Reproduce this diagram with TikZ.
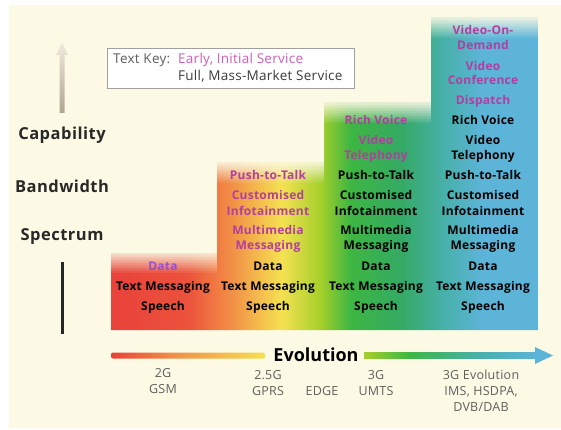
\documentclass[tikz,border=0pt]{standalone}
\usepackage{fontspec}
\setmainfont{Open Sans}
\definecolor{cream}{RGB}{252,249,228}
\definecolor{mag}{RGB}{178,62,160}
\definecolor{vio}{RGB}{150,80,200}
\definecolor{keymag}{RGB}{205,95,185}
\definecolor{gtext}{RGB}{95,95,95}
\definecolor{c0}{RGB}{232,66,58}
\definecolor{c1}{RGB}{236,82,60}
\definecolor{c2}{RGB}{242,142,70}
\definecolor{c3}{RGB}{245,225,82}
\definecolor{c4}{RGB}{165,208,42}
\definecolor{c5}{RGB}{62,182,66}
\definecolor{c6}{RGB}{52,170,100}
\definecolor{c7}{RGB}{72,176,170}
\definecolor{c8}{RGB}{92,180,216}
\pgfdeclarehorizontalshading{spectrum}{100bp}{color(0bp)=(c0); color(25bp)=(c0); color(34bp)=(c1); color(39bp)=(c2); color(45bp)=(c3); color(49.5bp)=(c4); color(53bp)=(c5); color(59bp)=(c6); color(64bp)=(c7); color(68.5bp)=(c8); color(75bp)=(c8); color(100bp)=(c8)}
\pgfdeclarehorizontalshading{evoleft}{100bp}{color(0bp)=(c0); color(25bp)=(c0); color(45bp)=(c2); color(75bp)=(c3); color(100bp)=(c3)}
\pgfdeclarehorizontalshading{evoright}{100bp}{color(0bp)=(c4); color(25bp)=(c4); color(38bp)=(c5); color(58bp)=(c7); color(75bp)=(c8); color(100bp)=(c8)}
\tikzset{
  item/.style={font=\fontsize{12}{13}\selectfont\bfseries\addfontfeatures{LetterSpace=2}, text=black, inner sep=0pt, text height=8.5pt, text depth=2.5pt},
  early/.style={item, text=mag},
  axislabel/.style={font=\fontsize{16.5}{18}\selectfont\bfseries\addfontfeatures{LetterSpace=3}, text={rgb,255:red,40;green,40;blue,40}, inner sep=0pt},
  gen/.style={font=\fontsize{12.5}{13}\selectfont\addfontfeatures{LetterSpace=2}, text=gtext, inner sep=0pt, text height=8.5pt, text depth=2.5pt},
  keytext/.style={font=\fontsize{13.5}{14}\selectfont\addfontfeatures{LetterSpace=2}, inner sep=0pt, anchor=west},
}
\begin{document}
\begin{tikzpicture}[x=1pt,y=-1pt]
\useasboundingbox (0,0) rectangle (561,430);
\fill[white] (0,0) rectangle (561,430);
\fill[cream] (9,5) rectangle (561,428);
% bars
\shade[shading=spectrum] (111,330) -- (111,253) -- (217,253) -- (217,163) -- (324,163) -- (324,103) -- (431,103) -- (431,18) -- (538,18) -- (538,330) -- cycle;
\foreach \xa/\xb/\yt in {111/217/253, 217/324/163, 324/431/103, 431/538/18}{
  \foreach \k [evaluate=\k as \op using 0.85-0.085*\k] in {0,...,9}{
    \fill[cream, opacity=\op] (\xa,\yt+2*\k) rectangle (\xb,\yt+2*\k+2);
  }
}
% up arrow and line
\shade[bottom color={rgb,255:red,175;green,165;blue,145}, top color={rgb,255:red,238;green,234;blue,220}]
  (59.5,113) -- (59.5,55) -- (56,55) -- (62,43) -- (68,55) -- (64.5,55) -- (64.5,113) -- cycle;
\coordinate (lt) at (62,262);
\coordinate (lb) at (62,334);
\draw[line width=3pt, black!85] (lt) -- (lb);
\node[axislabel] (cap) at (62,135) {Capability};
\node[axislabel] (bw) at (62,186) {Bandwidth};
\node[axislabel] (sp) at (62,237) {Spectrum};
% key
\node[draw={rgb,255:red,160;green,160;blue,160}, line width=0.9pt, fill=white, minimum width=247pt, minimum height=40pt, inner sep=0pt] (key) at (230.5,68) {};
\node[keytext, text=gtext] (keyt) at (113,60) {Text Key:};
\node[keytext, text=keymag] (keye) at (178,60) {Early, Initial Service};
\node[keytext, text={rgb,255:red,60;green,60;blue,60}] (keyf) at (178,76) {Full, Mass-Market Service};
% red column
\node[item, text=vio] (r1) at (163,267) {Data};
\node[item] (r2) at (163,287) {Text Messaging};
\node[item] (r3) at (163,307) {Speech};
% orange column
\node[early] (o1) at (268,177) {Push-to-Talk};
\node[early] (o2) at (268,197) {Customised};
\node[early] (o3) at (268,212) {Infotainment};
\node[early] (o4) at (268,231) {Multimedia};
\node[early] (o5) at (268,246) {Messaging};
\node[item] (o6) at (268,267) {Data};
\node[item] (o7) at (268,287) {Text Messaging};
\node[item] (o8) at (268,307) {Speech};
% green column
\node[early] (g1) at (376,122) {Rich Voice};
\node[early] (g2) at (376,142) {Video};
\node[early] (g3) at (376,157) {Telephony};
\node[item] (g4) at (376,177) {Push-to-Talk};
\node[item] (g5) at (376,197) {Customised};
\node[item] (g6) at (376,212) {Infotainment};
\node[item] (g7) at (376,231) {Multimedia};
\node[item] (g8) at (376,246) {Messaging};
\node[item] (g9) at (376,267) {Data};
\node[item] (g10) at (376,287) {Text Messaging};
\node[item] (g11) at (376,307) {Speech};
% blue column
\node[early] (b1) at (483,32) {Video-On-};
\node[early] (b2) at (483,47) {Demand};
\node[early] (b3) at (483,68) {Video};
\node[early] (b4) at (483,82) {Conference};
\node[early] (b5) at (483,102) {Dispatch};
\node[item] (b6) at (483,122) {Rich Voice};
\node[item] (b7) at (483,142) {Video};
\node[item] (b8) at (483,157) {Telephony};
\node[item] (b9) at (483,177) {Push-to-Talk};
\node[item] (b10) at (483,197) {Customised};
\node[item] (b11) at (483,212) {Infotainment};
\node[item] (b12) at (483,231) {Multimedia};
\node[item] (b13) at (483,246) {Messaging};
\node[item] (b14) at (483,267) {Data};
\node[item] (b15) at (483,287) {Text Messaging};
\node[item] (b16) at (483,307) {Speech};
% evolution arrow
\node[font=\fontsize{18}{20}\selectfont\bfseries, inner sep=0pt, text height=13pt, text depth=1pt] (evo) at (316,355) {Evolution};
\coordinate (el) at (111,355.5);
\coordinate (er) at (537,355.5);
\shade[shading=evoleft, rounded corners=2pt] (111,352.5) rectangle (265,358.5);
\shade[shading=evoright] (364,352.5) rectangle (537,358.5);
\fill[c8] (535,347) -- (553,355.5) -- (535,364) -- cycle;
% generation labels
\node[gen] (n1) at (163,374) {2G};
\node[gen] (n2) at (163,390) {GSM};
\node[gen] (n3) at (268,376) {2.5G};
\node[gen] (n4) at (268,392) {GPRS};
\node[gen] (n5) at (322,392) {EDGE};
\node[gen] (n6) at (376,376) {3G};
\node[gen] (n7) at (376,392) {UMTS};
\node[gen] (n8) at (481,376) {3G Evolution};
\node[gen] (n9) at (481,392) {IMS, HSDPA,};
\node[gen] (n10) at (481,408) {DVB/DAB};
\end{tikzpicture}
\end{document}
